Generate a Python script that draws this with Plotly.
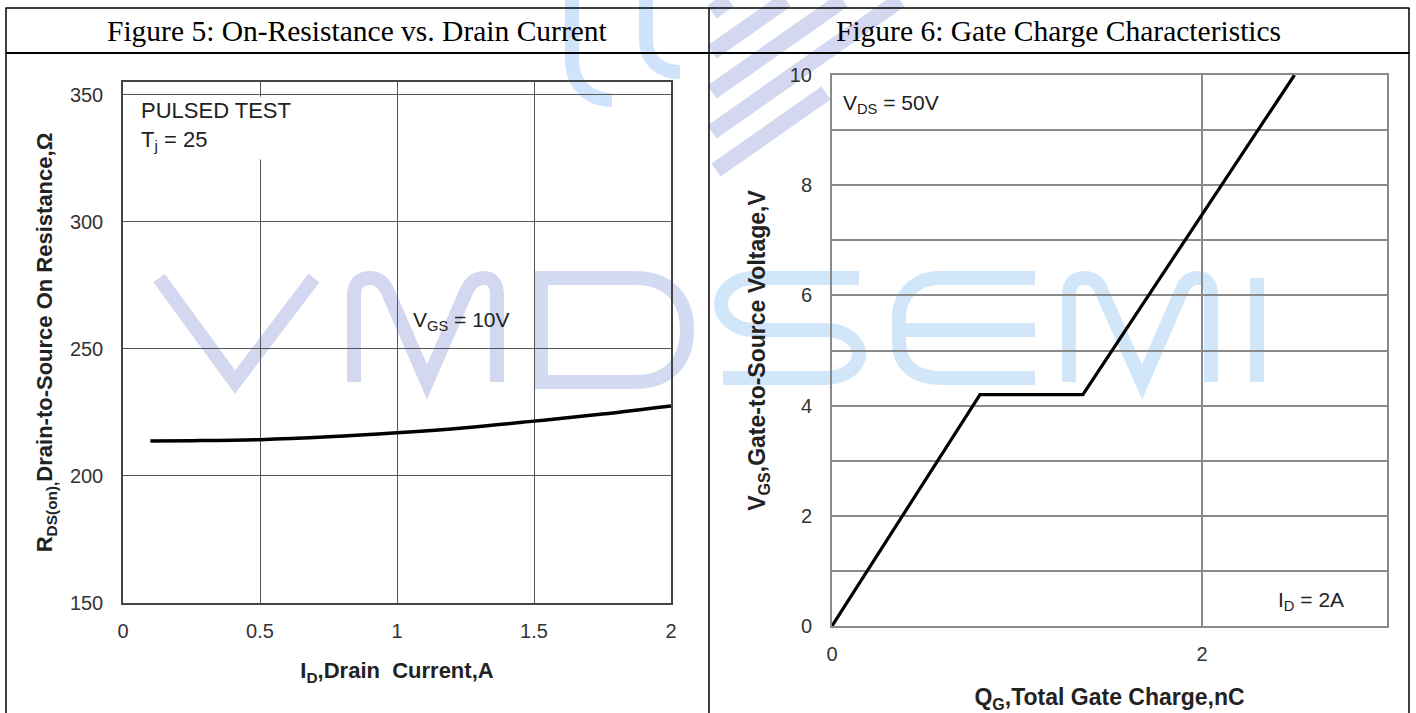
import re
import plotly.graph_objects as go

# figure fills the 1416x713 window exactly
OX, OY = 0, 0
W, H = 1416, 713

# ---------------- data ----------------
id_current = [0.1, 0.25, 0.5, 0.75, 1.0, 1.25, 1.5, 1.75, 2.0]
rds_on = [213.8, 213.9, 214.3, 215.4, 217.0, 219.0, 221.6, 224.4, 227.6]

qg_charge = [0.0, 0.80, 1.356, 2.50]
vgs_volt = [0.0, 4.2, 4.2, 10.0]

fig5_title = "Figure 5: On-Resistance vs. Drain Current"
fig6_title = "Figure 6: Gate Charge Characteristics"


def px(x):
    return (x - OX) / W


def py(y):
    return 1 - (y - OY) / H


def path(s):
    # convert a page-pixel SVG path into paper coordinates
    toks = re.findall(r"[MLQCZ]|-?\d+\.?\d*", s)
    out, nums = [], []
    for t in toks:
        if t in "MLQCZ":
            out.append(t)
        else:
            nums.append(float(t))
            if len(nums) == 2:
                out.append(f"{px(nums[0]):.5f},{py(nums[1]):.5f}")
                nums = []
    return " ".join(out)


fig = go.Figure()

fig.add_trace(go.Scatter(x=id_current, y=rds_on, mode="lines", line=dict(color="black", width=3.5, shape="spline"),
                         xaxis="x", yaxis="y", showlegend=False, hoverinfo="skip"))
fig.add_trace(go.Scatter(x=qg_charge, y=vgs_volt, mode="lines", line=dict(color="black", width=3.2),
                         xaxis="x2", yaxis="y2", showlegend=False, hoverinfo="skip"))

tickfont = dict(family="Liberation Sans, Arial", size=20, color="#333")
titlefont1 = dict(family="Liberation Sans, Arial", size=22, color="#222", weight="bold")
titlefont2 = dict(family="Liberation Sans, Arial", size=23, color="#222", weight="bold")

common = dict(zeroline=False, ticks="", tickfont=tickfont, fixedrange=True, automargin=False, showgrid=True)

fig.update_layout(
    width=W, height=H, margin=dict(l=0, r=0, t=0, b=0, pad=0, autoexpand=False),
    paper_bgcolor="white", plot_bgcolor="rgba(0,0,0,0)",
    xaxis=dict(domain=[px(123), px(671)], range=[0, 2], dtick=0.5, tick0=0,
               gridcolor="#555", gridwidth=1,
               showline=True, linecolor="#444", linewidth=1.5, mirror=True,
               ticklabelstandoff=9,
               title=dict(text="I<sub>D</sub>,Drain  Current,A", font=titlefont1, standoff=22),
               anchor="y", **common),
    yaxis=dict(domain=[py(603), py(82)], range=[150, 355.1], dtick=50, tick0=150,
               gridcolor="#555", gridwidth=1,
               showline=True, linecolor="#444", linewidth=1.5, mirror=True,
               ticklabelstandoff=14,
               title=dict(text="R<sub>DS(on),</sub>Drain-to-Source On Resistance,Ω", font=titlefont1, standoff=11),
               anchor="x", **common),
    xaxis2=dict(domain=[px(832), px(1387)], range=[0, 3], dtick=2, tick0=0,
                gridcolor="#8a8a8a", gridwidth=2,
                showline=True, linecolor="#8a8a8a", linewidth=2, mirror=True,
                ticklabelstandoff=9,
                title=dict(text="Q<sub>G</sub>,Total Gate Charge,nC", font=titlefont2, standoff=32),
                anchor="y2", **common),
    yaxis2=dict(domain=[py(626), py(75)], range=[0, 10], dtick=2, tick0=0,
                gridcolor="#8a8a8a", gridwidth=2,
                minor=dict(dtick=1, showgrid=True, gridcolor="#8a8a8a", gridwidth=2),
                showline=True, linecolor="#8a8a8a", linewidth=2, mirror=True,
                ticklabelstandoff=14,
                title=dict(text="V<sub>GS</sub>,Gate-to-Source Voltage,V", font=titlefont2, standoff=18),
                anchor="x2", **common),
)

# ---------------- watermark (decorative, below grid) ----------------
lav = "#d3d8f0"
blu = "#d2e6fa"
letters = [
    ("M159,278 L235,382 L314,278", lav),
    ("M354,382 L354,296 Q354,278 370,278 Q382,278 388,292 L427,382 L466,292 Q472,278 484,278 Q497,278 497,296 L497,382", lav),
    ("M541,278 L635,278 C670,278 687,300 687,330 C687,360 670,382 635,382 L541,382 Z", "#d3dbf3"),
    ("M859,278 L755,278 C735,278 721,290 721,304 C721,318 735,330 755,330 L825,330 C845,330 859,341 859,354 C859,367 845,378 825,378 L723,378", blu),
    ("M1035,278 L940,278 C915,278 899,295 899,318 L899,342 C899,365 915,378 940,378 L1035,378 M899,330 L1035,330", blu),
    ("M1069,382 L1069,296 Q1069,278 1085,278 Q1097,278 1102,292 L1142,382 L1181,292 Q1186,278 1198,278 Q1211,278 1211,296 L1211,382", blu),
    ("M1257,278 L1257,382", blu),
]
# logo fragments at top centre
logo = [
    ("M572,0 L572,60 C572,85 590,100 612,100", "#cfe4fa", 14),
    ("M646,0 L646,40 C646,60 660,72 680,72", "#cfe4fa", 14),
    ("M712,12 L729,0", lav, 16),
    ("M712,52 L786,0", lav, 16),
    ("M712,92 L843,0", lav, 16),
    ("M712,132 L900,0", lav, 16),
    ("M716,170 L826,93", lav, 16),
]
shapes = []
for p, c in letters:
    shapes.append(dict(type="path", xref="paper", yref="paper", path=path(p),
                       line=dict(color=c, width=14), layer="below"))
for p, c, w in logo:
    shapes.append(dict(type="path", xref="paper", yref="paper", path=path(p),
                       line=dict(color=c, width=w), layer="below"))

# ---------------- table frame ----------------
def hline(x0, x1, y, w=1.5):
    shapes.append(dict(type="line", xref="paper", yref="paper", x0=px(x0), x1=px(x1), y0=py(y), y1=py(y),
                       line=dict(color="black", width=w), layer="above"))


def vline(x, y0, y1, w=1.5):
    shapes.append(dict(type="line", xref="paper", yref="paper", x0=px(x), x1=px(x), y0=py(y0), y1=py(y1),
                       line=dict(color="black", width=w), layer="above"))


hline(5.5, 1409.5, 8)
hline(5.5, 1409.5, 53, 2)
vline(6, 8, 713)
vline(709, 8, 713)
vline(1409, 8, 713)

fig.update_layout(shapes=shapes)

# ---------------- annotations ----------------
serif = dict(family="Liberation Serif, Times New Roman", size=29.5, color="black")
sans = dict(family="Liberation Sans, Arial", size=21, color="#222")
ann = [
    dict(text=fig5_title, x=px(357), y=py(31), font=serif),
    dict(text=fig6_title, x=px(1058), y=py(31), font=serif),
    dict(text="PULSED TEST<br>T<sub>j</sub> = 25", x=px(139), y=py(96), xanchor="left", yanchor="top",
         align="left", font=dict(family="Liberation Sans, Arial", size=22, color="#222"),
         bgcolor="white", width=158, height=60, valign="top", borderpad=1),
    dict(text="V<sub>GS</sub> = 10V", x=px(411), y=py(321), xanchor="left", font=sans),
    dict(text="V<sub>DS</sub> = 50V", x=px(841), y=py(104), xanchor="left", font=sans),
    dict(text="I<sub>D</sub> = 2A", x=px(1276), y=py(601), xanchor="left", font=sans),
]
for a in ann:
    a.setdefault("xanchor", "center")
    a.setdefault("yanchor", "middle")
    a.update(xref="paper", yref="paper", showarrow=False)
fig.update_layout(annotations=ann)

fig.write_html("out.html")
